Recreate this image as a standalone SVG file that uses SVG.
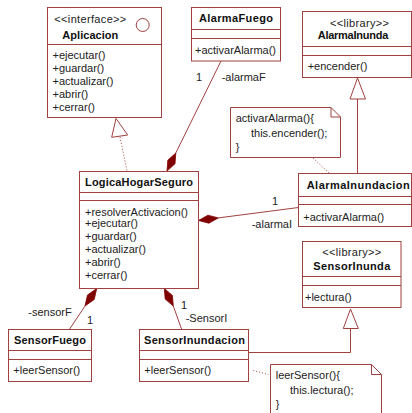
<svg xmlns="http://www.w3.org/2000/svg" width="412" height="413" viewBox="0 0 412 413">
<style>
.box{fill:#fff;stroke:#a0413f;stroke-width:1}
.ln{fill:none;stroke:#a0413f;stroke-width:1}
.dot{fill:none;stroke:#a0413f;stroke-width:1;stroke-dasharray:1,2}
.dia{fill:#800000;stroke:#800000;stroke-width:0.8}
.tri{fill:#fff;stroke:#a0413f;stroke-width:1}
text{font-family:"Liberation Sans",Arial,sans-serif;font-size:11px;fill:#222}
.b{font-weight:bold;fill:#111}
.m{text-anchor:middle}
</style>
<rect width="412" height="413" fill="#fff"/>
<g id="connectors">
  <path class="dot" d="M120,137 L127,171"/>
  <polygon class="tri" points="116,118.5 111.7,137.3 127.7,135"/>
  <path class="ln" d="M221,61 L175.8,153"/>
  <polygon class="dia" points="167,171 167.8,160.2 175.8,153 175,163.8"/>
  <text x="196" y="80.5">1</text>
  <text x="221.7" y="80.5">-alarmaF</text>
  <path class="ln" d="M357.5,99 V173.5"/>
  <polygon class="tri" points="357.5,78 350,99 365.5,99"/>
  <path class="dot" d="M313,158 L329,173"/>
  <path class="ln" d="M218.3,217.9 L298.5,207.5"/>
  <polygon class="dia" points="198.5,220.5 207.9,215.2 218.3,217.9 208.9,223.2"/>
  <text x="272" y="204.5">1</text>
  <text x="251.7" y="228">-alarmaI</text>
  <path class="ln" d="M85,306 L69.3,329.5"/>
  <polygon class="dia" points="96.7,288.5 94.2,299.5 85,306 87.5,295"/>
  <text x="28.3" y="316">-sensorF</text>
  <text x="87" y="324">1</text>
  <path class="ln" d="M173.3,306 L181.7,329.5"/>
  <polygon class="dia" points="164.3,288.5 172.4,295.4 173.3,306 165.2,299.1"/>
  <text x="181" y="309">1</text>
  <text x="185.7" y="322">-SensorI</text>
  <path class="ln" d="M350.5,328.5 V352.5 H248.5"/>
  <polygon class="tri" points="350.5,309 343.3,328.5 358.3,328.5"/>
  <path class="dot" d="M253.3,370.5 L268.3,374.5"/>
</g>
<g id="Aplicacion">
  <rect class="box" x="47.5" y="7.5" width="114" height="110"/>
  <path class="ln" d="M47.5,44.5 H161.5"/>
  <circle class="ln" cx="142.7" cy="25" r="6.5"/>
  <text x="54.3" y="22.5" textLength="72" lengthAdjust="spacing">&lt;&lt;interface&gt;&gt;</text>
  <text class="b" x="62.3" y="39" textLength="56" lengthAdjust="spacing">Aplicacion</text>
  <text x="52.5" y="59">+ejecutar()</text>
  <text x="52.5" y="72">+guardar()</text>
  <text x="52.5" y="85">+actualizar()</text>
  <text x="52.5" y="98">+abrir()</text>
  <text x="52.5" y="111">+cerrar()</text>
</g>
<g id="AlarmaFuego">
  <rect class="box" x="191.5" y="7.5" width="89" height="53.5"/>
  <path class="ln" d="M191.5,29.5 H280.5 M191.5,38.5 H280.5"/>
  <text class="b" x="199" y="22.3" textLength="74" lengthAdjust="spacing">AlarmaFuego</text>
  <text x="195" y="54">+activarAlarma()</text>
</g>
<g id="AlarmaInunda">
  <rect class="box" x="302.5" y="11.5" width="109" height="66"/>
  <path class="ln" d="M302.5,46.5 H411.5 M302.5,55.5 H411.5"/>
  <text x="330" y="26.5" textLength="59" lengthAdjust="spacing">&lt;&lt;library&gt;&gt;</text>
  <text class="b" x="317.7" y="39" textLength="70.6" lengthAdjust="spacing">AlarmaInunda</text>
  <text x="307.7" y="69.5">+encender()</text>
</g>
<g id="NotaAlarma">
  <path class="box" d="M230.5,107.5 H331 L340.5,117 V157.5 H230.5 Z"/>
  <path class="ln" d="M331,107.5 V117 H340.5"/>
  <text x="235.7" y="122">activarAlarma(){</text>
  <text x="251" y="137">this.encender();</text>
  <text x="235.7" y="151">}</text>
</g>
<g id="LogicaHogarSeguro">
  <rect class="box" x="79.5" y="171.5" width="119" height="117"/>
  <path class="ln" d="M79.5,192.5 H198.5 M79.5,200.5 H198.5"/>
  <text class="b" x="85" y="185.5" textLength="108" lengthAdjust="spacing">LogicaHogarSeguro</text>
  <text x="85" y="215.7">+resolverActivacion()</text>
  <text x="85" y="227.3">+ejecutar()</text>
  <text x="85" y="239.7">+guardar()</text>
  <text x="85" y="253">+actualizar()</text>
  <text x="85" y="265.7">+abrir()</text>
  <text x="85" y="279">+cerrar()</text>
</g>
<g id="AlarmaInundacion">
  <rect class="box" x="298.5" y="173.5" width="113" height="53"/>
  <path class="ln" d="M298.5,196.5 H411.5 M298.5,204.5 H411.5"/>
  <text class="b" x="306.7" y="189" textLength="103" lengthAdjust="spacing">AlarmaInundacion</text>
  <text x="303.3" y="220.5">+activarAlarma()</text>
</g>
<g id="SensorInunda">
  <rect class="box" x="302.5" y="241.5" width="98.5" height="66"/>
  <path class="ln" d="M302.5,276.5 H401 M302.5,285.5 H401"/>
  <text x="322.3" y="255.5" textLength="59" lengthAdjust="spacing">&lt;&lt;library&gt;&gt;</text>
  <text class="b" x="313.3" y="270" textLength="77" lengthAdjust="spacing">SensorInunda</text>
  <text x="305" y="300.5">+lectura()</text>
</g>
<g id="SensorFuego">
  <rect class="box" x="8.5" y="329.5" width="83" height="52"/>
  <path class="ln" d="M8.5,350.5 H91.5 M8.5,359.5 H91.5"/>
  <text class="b" x="14" y="344" textLength="72" lengthAdjust="spacing">SensorFuego</text>
  <text x="13.3" y="374">+leerSensor()</text>
</g>
<g id="SensorInundacion">
  <rect class="box" x="139.5" y="329.5" width="109" height="52"/>
  <path class="ln" d="M139.5,350.5 H248.5 M139.5,359.5 H248.5"/>
  <text class="b" x="144" y="344" textLength="101" lengthAdjust="spacing">SensorInundacion</text>
  <text x="144.3" y="374">+leerSensor()</text>
</g>
<g id="NotaSensor">
  <path class="box" d="M270.5,414 V364.5 H371.5 L381.5,374.5 V414"/>
  <path class="ln" d="M371.5,364.5 V374.5 H381.5"/>
  <text x="275.7" y="379">leerSensor(){</text>
  <text x="290" y="394">this.lectura();</text>
  <text x="275.7" y="408">}</text>
</g>
</svg>
